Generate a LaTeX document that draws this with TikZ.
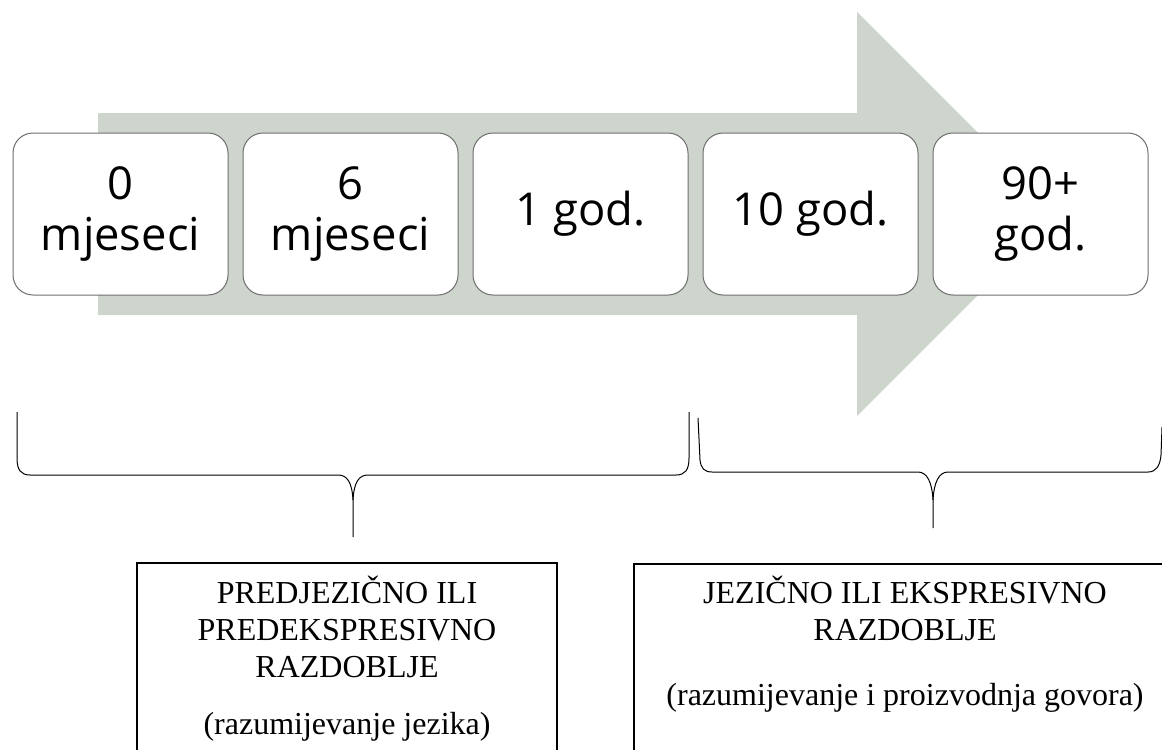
\documentclass[tikz,border=0pt]{standalone}
\usepackage{fontspec}
\setmainfont{Liberation Serif}
\newfontfamily\agefont{Open Sans}
\usetikzlibrary{positioning}

\definecolor{arrowfill}{RGB}{205,213,204}
\definecolor{agedraw}{RGB}{110,110,110}

\tikzset{
  agebox/.style={draw=agedraw, line width=0.75pt, fill=white, rounded corners=15pt,
    minimum width=161.25pt, minimum height=121.5pt, inner sep=0pt, align=center,
    font=\agefont\fontsize{34}{38}\selectfont},
  periodbox/.style={line width=1pt},
  periodtext/.style={anchor=north, inner sep=0pt, align=center,
    font=\fontsize{24}{27.6}\selectfont},
  brace/.style={line width=0.75pt}
}

\begin{document}
\begin{tikzpicture}[x=0.75pt,y=-0.75pt]
  \clip (0,0) rectangle (1162,749);
  \useasboundingbox (0,0) rectangle (1162,749);

  % Arrow
  \fill[arrowfill] (98,113) -- (857,113) -- (857,12) -- (1059,214)
    -- (857,416) -- (857,315) -- (98,315) -- cycle;

  % Ages
  \node[agebox] (m0) at (120.5,214) {0\\mjeseci};
  \node[agebox, right=10.5pt of m0] (m6) {6\\mjeseci};
  \node[agebox, right=10.5pt of m6] (g1) {1 god.};
  \node[agebox, right=10.5pt of g1] (g10) {10 god.};
  \node[agebox, right=10.5pt of g10] (g90) {90+\\god.};

  % Braces
  % left
  \draw[brace] (17,412) -- (17,458) .. controls (17,470) and (21,475) .. (30,475)
    -- (338,475) .. controls (347,475) and (352,482) .. (353,500) -- (353,537);
  \draw[brace] (353,500) .. controls (354,482) and (359,475) .. (368,475)
    -- (676,475) .. controls (685,475) and (689,470) .. (689,458) -- (689,412);
  % right
  \draw[brace] (698,418) -- (700,460) .. controls (701,468) and (704,472) .. (712,472)
    -- (918,472) .. controls (927,472) and (932,482) .. (933,500) -- (933,528);
  \draw[brace] (933,500) .. controls (934,482) and (939,472) .. (948,472)
    -- (1148,472) .. controls (1156,472) and (1160,466) .. (1161,455) -- (1162,427);

  % Periods
  \draw[periodbox] (137,563) rectangle (557,760);
  \draw[periodbox] (634,564) rectangle (1176,760);
  \node[periodtext] (pre) at (347,576)
    {PREDJEZIČNO ILI\\PREDEKSPRESIVNO\\RAZDOBLJE\\[15pt](razumijevanje jezika)};
  \node[periodtext] (jez) at (905,576)
    {JEZIČNO ILI EKSPRESIVNO\\RAZDOBLJE\\[21pt](razumijevanje i proizvodnja govora)};
\end{tikzpicture}
\end{document}
